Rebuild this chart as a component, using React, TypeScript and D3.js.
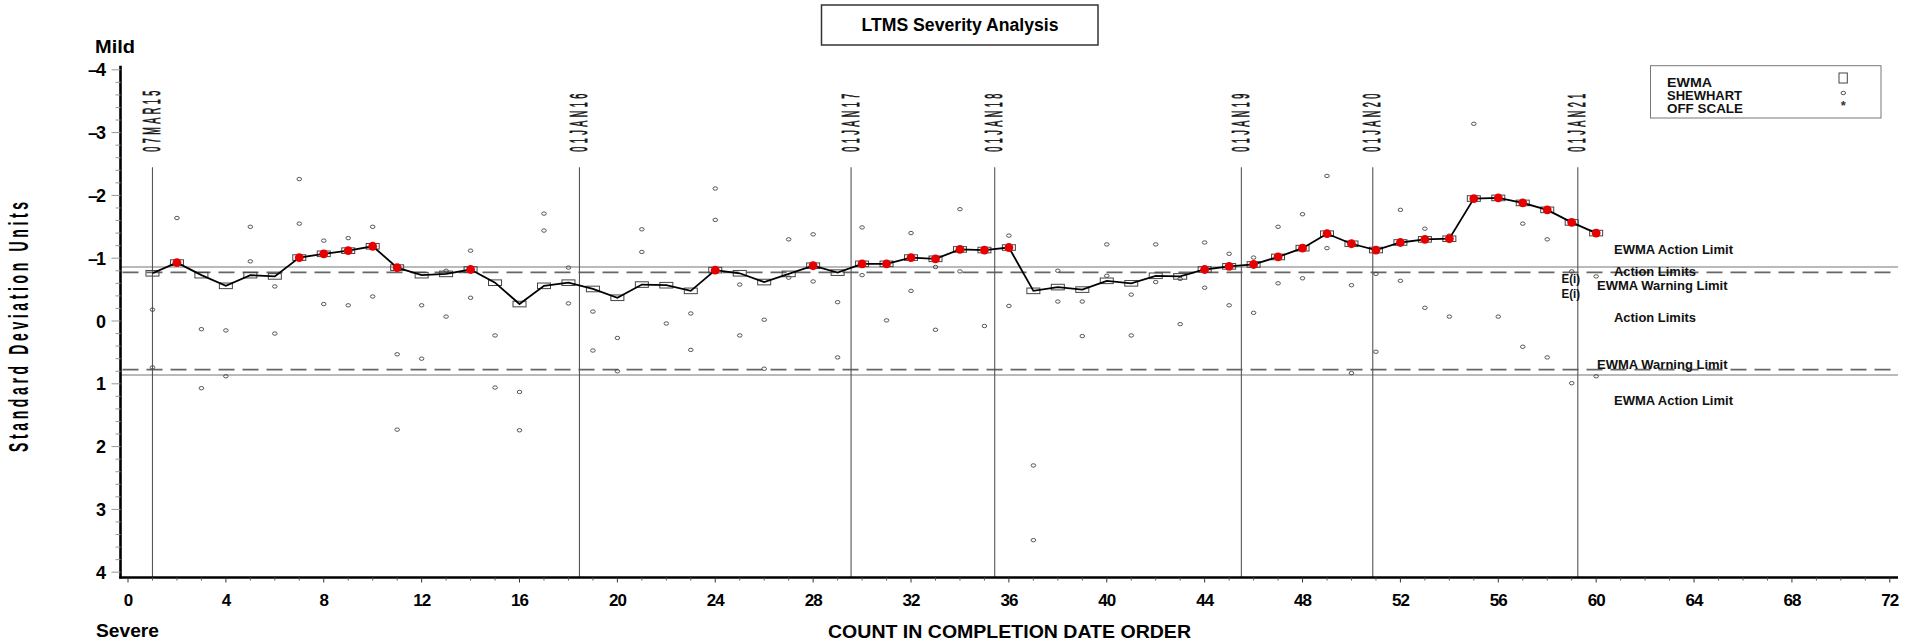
import React from "react";
import * as d3 from "d3";

const ewma: number[] = [
  -0.76, -0.93, -0.73, -0.56, -0.73, -0.71, -1.01, -1.07, -1.12, -1.19,
  -0.85, -0.73, -0.75, -0.82, -0.61, -0.27, -0.56, -0.61, -0.51, -0.37,
  -0.58, -0.57, -0.48, -0.81, -0.76, -0.62, -0.75, -0.88, -0.77, -0.91,
  -0.91, -1.01, -0.99, -1.14, -1.13, -1.17, -0.48, -0.54, -0.5, -0.64,
  -0.6, -0.72, -0.71, -0.82, -0.87, -0.9, -1.02, -1.16, -1.39, -1.23,
  -1.13, -1.25, -1.3, -1.31, -1.95, -1.96, -1.88, -1.77, -1.57, -1.4,
];

const shewhartA: (number | null)[] = [
  -0.18, -1.64, 0.13, 0.15, -1.5, -0.55, -2.26, -1.28, -1.32, -1.5,
  0.53, -0.25, -0.8, -1.12, 0.23, 1.13, -1.71, -0.85, -0.15, 0.27,
  -1.46, 0.04, -0.12, -2.11, -0.58, -0.02, -1.3, -1.38, -0.3, -1.49,
  -0.01, -1.4, -0.86, -1.78, 0.08, -1.36, 2.3, -0.8, -0.31, -1.22,
  -0.42, -1.22, -0.67, -1.25, -1.07, -1.01, -1.5, -1.7, -2.31, -0.57,
  -0.75, -1.77, -1.47, -1.36, -3.14, -0.07, -1.55, -1.3, -0.79, -0.71,
];

const shewhartB: (number | null)[] = [
  0.74, null, 1.07, 0.88, -0.95, 0.2, -1.55, -0.27, -0.25, -0.39,
  1.73, 0.6, -0.07, -0.37, 1.06, 1.74, -1.44, -0.28, 0.47, 0.8,
  -1.1, null, 0.46, -1.61, 0.23, 0.76, -0.69, -0.63, 0.58, -0.73,
  null, -0.48, 0.14, -0.79, null, -0.24, 3.49, -0.31, 0.24, -0.72,
  0.23, -0.62, 0.05, -0.53, -0.25, -0.13, -0.6, -0.68, -1.16, 0.83,
  0.49, -0.64, -0.21, -0.07, null, null, 0.41, 0.58, 0.99, 0.88,
];

const dateLabels: string[] = ["07MAR15", "01JAN16", "01JAN17", "01JAN18", "01JAN19", "01JAN20", "01JAN21"];
const datePositions: number[] = [1.0, 18.45, 29.55, 35.42, 45.5, 50.87, 59.25];

const xTicks: number[] = d3.range(0, 73, 4);
const yTicks: number[] = d3.range(-4, 5, 1);

const ewmaActionLimit = 0.86;
const ewmaWarningLimit = 0.775;

const legendItems: string[] = ["EWMA", "SHEWHART", "OFF SCALE"];

const FONT = "'Liberation Sans', Arial, sans-serif";

export default function App() {
  const x = d3.scaleLinear().domain([0, 72]).range([128, 1889.8]);
  const y = d3.scaleLinear().domain([-4, 4]).range([69.8, 572.2]);

  const axisLeft = 120.5;
  const axisBottom = 577.5;
  const plotRight = 1898;

  const idx = ewma.map((_, i) => i + 1);
  const line = d3
    .line<number>()
    .x((_, i) => x(i + 1))
    .y((d) => y(d));

  const minorY = d3.range(-4, 4.001, 0.2).filter((v) => Math.abs(v - Math.round(v)) > 0.01);
  const minorX = d3.range(0, 73, 1).filter((v) => v % 4 !== 0);

  const shew: { i: number; v: number }[] = [];
  idx.forEach((i, k) => {
    const a = shewhartA[k];
    const b = shewhartB[k];
    if (a !== null) shew.push({ i, v: a });
    if (b !== null) shew.push({ i, v: b });
  });

  return (
    <svg
      width={1911}
      height={642}
      style={{ position: "absolute", left: 0, top: 0, background: "#fff" }}
      fontFamily={FONT}
    >
      <rect x={0} y={0} width={1911} height={642} fill="#fff" />

      {/* Title */}
      <rect x={821.5} y={5} width={276.5} height={40} fill="none" stroke="#333" strokeWidth={1.5} />
      <text x={960} y={30.5} textAnchor="middle" fontSize={18} fontWeight="bold" textLength={197} lengthAdjust="spacingAndGlyphs">
        LTMS Severity Analysis
      </text>

      {/* Mild / Severe */}
      <text x={95} y={53} fontSize={18} fontWeight="bold" textLength={40} lengthAdjust="spacingAndGlyphs">Mild</text>
      <text x={96} y={636.5} fontSize={18} fontWeight="bold" textLength={63} lengthAdjust="spacingAndGlyphs">Severe</text>

      {/* Y axis title */}
      <text
        transform={`translate(28,452) rotate(-90) scale(0.5,1)`}
        fontSize={28}
        fontWeight="bold"
        textLength={500}
        lengthAdjust="spacing"
      >
        Standard Deviation Units
      </text>

      {/* X axis title */}
      <text x={828} y={638} fontSize={18} fontWeight="bold" textLength={363} lengthAdjust="spacingAndGlyphs">
        COUNT IN COMPLETION DATE ORDER
      </text>

      {/* Limit lines */}
      {[-ewmaActionLimit, ewmaActionLimit].map((v, k) => (
        <line key={"al" + k} x1={axisLeft} x2={plotRight} y1={y(v)} y2={y(v)} stroke="#777" strokeWidth={1.1} />
      ))}
      {[-ewmaWarningLimit, ewmaWarningLimit].map((v, k) => (
        <line
          key={"wl" + k}
          x1={axisLeft + 2}
          x2={plotRight}
          y1={y(v)}
          y2={y(v)}
          stroke="#666"
          strokeWidth={1.6}
          strokeDasharray="16,8"
        />
      ))}

      {/* Date reference lines */}
      {datePositions.map((p, k) => (
        <g key={"d" + k}>
          <line x1={x(p)} x2={x(p)} y1={167.3} y2={axisBottom} stroke="#555" strokeWidth={1.1} />
          <text
            transform={`translate(${x(p) + 7.5},151.7) rotate(-90) scale(0.38,1)`}
            fontSize={24}
            letterSpacing={9}
            fill="#111"
            stroke="#111"
            strokeWidth={0.8}
          >
            {dateLabels[k]}
          </text>
        </g>
      ))}

      {/* Shewhart points */}
      {shew.map((d, k) => (
        <ellipse key={"s" + k} cx={x(d.i)} cy={y(d.v)} rx={2.3} ry={1.7} fill="none" stroke="#444" strokeWidth={0.9} />
      ))}

      {/* EWMA squares */}
      {ewma.map((v, k) => (
        <rect
          key={"e" + k}
          x={x(k + 1) - 6.5}
          y={y(v) - 2.8}
          width={13}
          height={5.6}
          fill="none"
          stroke="#444"
          strokeWidth={1}
        />
      ))}

      {/* EWMA line */}
      <path d={line(ewma) || ""} fill="none" stroke="#000" strokeWidth={1.8} />

      {/* Red flags: EWMA beyond warning limit */}
      {ewma.map((v, k) =>
        Math.abs(v) > ewmaWarningLimit ? (
          <circle key={"r" + k} cx={x(k + 1)} cy={y(v)} r={4.4} fill="#e60000" />
        ) : null
      )}

      {/* Axes */}
      <line x1={axisLeft} x2={axisLeft} y1={65.7} y2={axisBottom + 1} stroke="#000" strokeWidth={2.6} />
      <line x1={axisLeft - 1.3} x2={plotRight} y1={axisBottom} y2={axisBottom} stroke="#000" strokeWidth={2.6} />

      {yTicks.map((v) => (
        <g key={"yt" + v}>
          <line x1={axisLeft - 9} x2={axisLeft} y1={y(v)} y2={y(v)} stroke="#999" strokeWidth={1} />
          <text
            x={104}
            y={y(v) + 6.5}
            textAnchor="end"
            fontSize={18}
            fontWeight="bold"
            letterSpacing={-2}
          >
            {v < 0 ? "\u2013" + Math.abs(v) : String(v)}
          </text>
        </g>
      ))}
      {minorY.map((v, k) => (
        <line key={"ym" + k} x1={axisLeft - 5} x2={axisLeft} y1={y(v)} y2={y(v)} stroke="#999" strokeWidth={1} />
      ))}

      {xTicks.map((v) => (
        <g key={"xt" + v}>
          <line x1={x(v)} x2={x(v)} y1={axisBottom} y2={axisBottom + 5} stroke="#333" strokeWidth={1} />
          <text x={x(v)} y={606} textAnchor="middle" fontSize={17} fontWeight="bold" letterSpacing={-1}>
            {v}
          </text>
        </g>
      ))}
      {minorX.map((v) => (
        <line key={"xm" + v} x1={x(v)} x2={x(v)} y1={axisBottom} y2={axisBottom + 3} stroke="#555" strokeWidth={1} />
      ))}

      {/* Right-side limit labels */}
      <g fontSize={13.5} fontWeight="bold" fill="#111">
        <text x={1614} y={254} textLength={119} lengthAdjust="spacingAndGlyphs">EWMA Action Limit</text>
        <text x={1614} y={275.5} textLength={82} lengthAdjust="spacingAndGlyphs">Action Limits</text>
        <text x={1561.5} y={283} textLength={18.5} lengthAdjust="spacingAndGlyphs">E(i)</text>
        <text x={1597} y={290} textLength={130.5} lengthAdjust="spacingAndGlyphs">EWMA Warning Limit</text>
        <text x={1561.5} y={298} textLength={18.5} lengthAdjust="spacingAndGlyphs">E(i)</text>
        <text x={1614} y={321.5} textLength={82} lengthAdjust="spacingAndGlyphs">Action Limits</text>
        <text x={1597} y={369} textLength={130.5} lengthAdjust="spacingAndGlyphs">EWMA Warning Limit</text>
        <text x={1614} y={405} textLength={119} lengthAdjust="spacingAndGlyphs">EWMA Action Limit</text>
      </g>

      {/* Legend */}
      <rect x={1650.5} y={65.7} width={230.5} height={52.3} fill="none" stroke="#777" strokeWidth={1} />
      <g fontSize={13} fontWeight="bold" fill="#111">
        {legendItems.map((t, k) => (
          <text
            key={t}
            x={1667}
            y={87 + k * 12.8}
            textLength={[45, 75, 76][k]}
            lengthAdjust="spacingAndGlyphs"
          >
            {t}
          </text>
        ))}
      </g>
      <rect x={1839} y={73} width={8.3} height={10} fill="none" stroke="#444" strokeWidth={1} />
      <ellipse cx={1843.3} cy={93} rx={2.3} ry={1.7} fill="none" stroke="#444" strokeWidth={0.9} />
      <text x={1843.3} y={110} textAnchor="middle" fontSize={13} fontWeight="bold" fill="#333">*</text>
    </svg>
  );
}
